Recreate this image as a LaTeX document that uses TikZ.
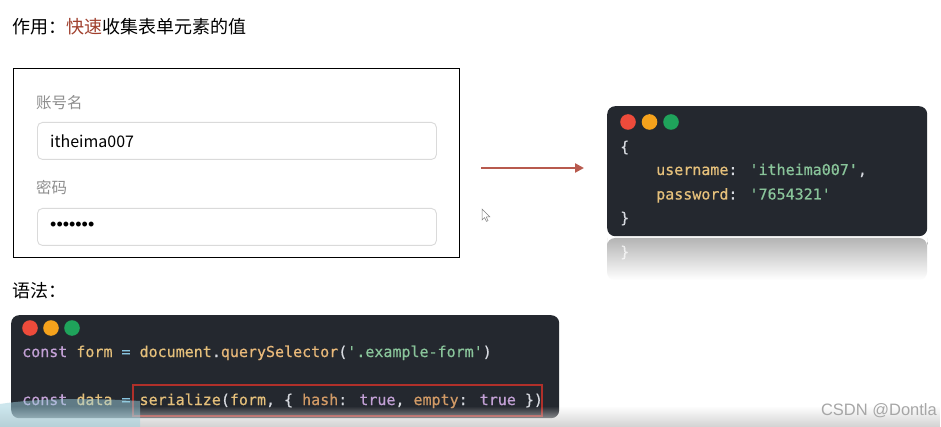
\documentclass[tikz,border=0pt]{standalone}
\usepackage{fontspec}
\setmainfont{Noto Sans CJK SC}
\newfontfamily\cjk{Noto Sans CJK SC}
\newfontfamily\codefont[Ligatures=TeXOff,FakeBold=0.6]{DejaVu Sans Mono}
\newfontfamily\arial{Liberation Sans}
\usetikzlibrary{arrows.meta,fadings}
\definecolor{fast}{HTML}{A0402E}
\definecolor{labelgray}{HTML}{8E8E8E}
\definecolor{fieldgray}{HTML}{DADADA}
\definecolor{codebg}{HTML}{24282F}
\definecolor{dred}{HTML}{EE4B3B}
\definecolor{dorange}{HTML}{F5A21C}
\definecolor{dgreen}{HTML}{1FA35B}
\definecolor{cwhite}{HTML}{D7DAE0}
\definecolor{cyel}{HTML}{E5C07B}
\definecolor{cgreen}{HTML}{89C49A}
\definecolor{ckw}{HTML}{C3A1D6}
\definecolor{cop}{HTML}{88C5E0}
\definecolor{cfn}{HTML}{E9B97A}
\definecolor{corange}{HTML}{D19A66}
\definecolor{hlred}{HTML}{B0302A}
\definecolor{arrowred}{HTML}{B85A4E}
\definecolor{refgray}{HTML}{B4B4B4}
\definecolor{wmgray}{HTML}{A6A6A6}
\definecolor{blueov}{HTML}{9CCFDD}
\begin{document}
\begin{tikzpicture}[x=1pt,y=-1pt,
  heading/.style={inner sep=0, anchor=west, text=black, font=\cjk\fontsize{18}{20}\selectfont},
  lbl/.style={inner sep=0, anchor=west, text=labelgray, font=\cjk\fontsize{15.5}{18}\selectfont},
  field/.style={draw=fieldgray, line width=0.9pt, rounded corners=5pt, fill=white, inner sep=0, anchor=north west},
  codebox/.style={fill=codebg, rounded corners=8pt, inner sep=0, anchor=north west},
  code/.style={inner sep=0, anchor=base west, font=\codefont\fontsize{15}{18}\selectfont, text=cwhite},
  flow/.style={draw=arrowred, line width=2.6pt, -{Triangle[length=9pt,width=9pt]}}
]
\useasboundingbox (0,0) rectangle (941,427);
\fill[white] (0,0) rectangle (941,427);

% title
\node[heading] (title) at (12,27) {作用：\textcolor{fast}{快速}收集表单元素的值};

% form
\node[draw=black, line width=1.4pt, minimum width=446pt, minimum height=189pt, inner sep=0, anchor=north west] (form) at (13,68) {};
\node[lbl] (userlbl) at (36,103) {账号名};
\node[field, minimum width=399pt, minimum height=37pt] (userfield) at (37,122) {};
\node[inner sep=0, anchor=west, font=\cjk\fontsize{16}{18}\selectfont] (userval) at (50,141) {itheima007};
\node[lbl] (pwlbl) at (36,188) {密码};
\node[field, minimum width=399pt, minimum height=37pt] (pwfield) at (37,208) {};
\node[inner sep=0, anchor=west, font=\arial\fontsize{18}{18}\selectfont] (pwval) at (50,226) {•••••••};

% arrow
\coordinate (astart) at (481,168);
\coordinate (aend) at (584,168);
\draw[flow] (astart) -- (aend);

% cursor
\draw[gray, line width=0.5pt, fill=white] (482,209) -- (482,220) -- (484.6,217.6) -- (486.4,221.4) -- (488,220.7) -- (486.3,217) -- (489.8,216.8) -- cycle;

% reflection of the result box
\shade[top color=refgray, bottom color=white, rounded corners=8pt] (607,246) -- (607,238) -- (927,238) -- (927,246) -- (927,280) -- (607,280) -- cycle;
\node[code, text=white, opacity=0.7] (refbrace) at (620,257) {\}};

% result box
\node[codebox, minimum width=320pt, minimum height=130pt] (rcode) at (607,106) {};
\fill[dred] (628,122) circle (7.8pt);
\fill[dorange] (649.5,122) circle (7.8pt);
\fill[dgreen] (671,122) circle (7.8pt);
\node[code] (ob) at (620,152) {\{};
\node[code] (rl1) at (656,175) {\textcolor{cyel}{username}: \textcolor{cgreen}{'itheima007'},};
\node[code] (rl2) at (656,199.5) {\textcolor{cyel}{password}: \textcolor{cgreen}{'7654321'}};
\node[code] (cb) at (620,223) {\}};

% syntax
\node[heading] (syntax) at (12,291) {语法：};
\node[codebox, minimum width=548pt, minimum height=103pt] (bcode) at (11,315) {};
\fill[dred] (30,328) circle (7.8pt);
\fill[dorange] (51,328) circle (7.8pt);
\fill[dgreen] (72,328) circle (7.8pt);
\node[code] (bl1) at (22,357) {\textcolor{ckw}{const} \textcolor{cyel}{form} \textcolor{cop}{=} \textcolor{cyel}{document}.\textcolor{cfn}{querySelector}(\textcolor{cgreen}{'.example-form'})};
\node[code] (bl2) at (22,405) {\textcolor{ckw}{const} \textcolor{cyel}{data} \textcolor{cop}{=} \textcolor{cyel}{serialize}(\textcolor{cyel}{form}, \{ \textcolor{corange}{hash}: \textcolor{ckw}{true}, \textcolor{corange}{empty}: \textcolor{ckw}{true} \})};
\node[draw=hlred, line width=1.8pt, minimum width=409pt, minimum height=31pt, inner sep=0, anchor=north west] (hl) at (132,384) {};

% bottom overlay
\fill[gray!35, path fading=north] (0,406) rectangle (941,427);
\fill[blueov, opacity=0.5] (0,404) .. controls (40,398) and (90,398) .. (140,401) -- (140,427) -- (0,427) -- cycle;

% watermark
\node[inner sep=0, anchor=east, text=wmgray, font=\arial\fontsize{16.5}{18}\selectfont] (wm) at (937,411) {CSDN @Dontla};
\end{tikzpicture}
\end{document}
